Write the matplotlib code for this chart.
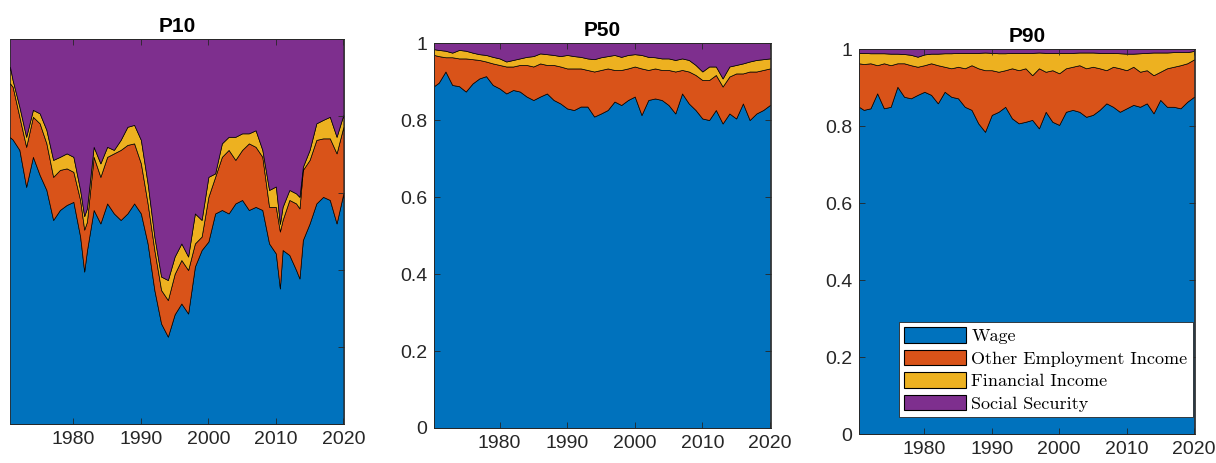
import numpy as np
import matplotlib
matplotlib.use('Agg')
import matplotlib.pyplot as plt
from matplotlib.patches import Patch

# cumulative shares: top of wage, top of other employment,
# top of financial income (social security fills the rest up to 1)
years_p10 = [1970.6, 1971, 1972, 1973, 1974, 1975, 1976, 1977, 1978, 1979, 1980,
             1981, 1981.6, 1982, 1983, 1984, 1985, 1986, 1987, 1988, 1989, 1990,
             1991, 1992, 1993, 1994, 1995, 1996, 1997, 1998, 1999, 2000,
             2001, 2002, 2003, 2004, 2005, 2006, 2007, 2008, 2009, 2010,
             2010.6, 2011, 2012, 2013, 2013.5, 2014, 2015, 2016, 2017, 2018, 2019, 2020]
wage_p10 = [0.745, 0.739, 0.712, 0.616, 0.694, 0.647, 0.608, 0.530, 0.556, 0.569, 0.577,
            0.487, 0.396, 0.450, 0.556, 0.521, 0.573, 0.547, 0.530, 0.547, 0.573, 0.547,
            0.469, 0.348, 0.261, 0.227, 0.285, 0.313, 0.287, 0.409, 0.452, 0.474,
            0.547, 0.556, 0.547, 0.573, 0.582, 0.556, 0.564, 0.556, 0.469, 0.443,
            0.352, 0.452, 0.439, 0.400, 0.378, 0.478, 0.521, 0.573, 0.590, 0.582, 0.521, 0.599]
other_p10 = [0.885, 0.876, 0.798, 0.720, 0.798, 0.781, 0.729, 0.642, 0.660, 0.664, 0.655,
             0.582, 0.505, 0.525, 0.694, 0.642, 0.694, 0.703, 0.712, 0.725, 0.729, 0.677,
             0.573, 0.452, 0.348, 0.322, 0.390, 0.426, 0.400, 0.469, 0.487, 0.590,
             0.642, 0.694, 0.712, 0.686, 0.712, 0.729, 0.720, 0.694, 0.564, 0.564,
             0.500, 0.530, 0.582, 0.573, 0.560, 0.660, 0.686, 0.738, 0.742, 0.742, 0.703, 0.772]
fin_p10 = [0.928, 0.893, 0.824, 0.746, 0.816, 0.807, 0.764, 0.686, 0.694, 0.703, 0.694,
           0.608, 0.540, 0.560, 0.720, 0.677, 0.720, 0.712, 0.738, 0.772, 0.777, 0.738,
           0.625, 0.487, 0.383, 0.374, 0.435, 0.469, 0.435, 0.547, 0.530, 0.642,
           0.651, 0.729, 0.746, 0.746, 0.755, 0.755, 0.763, 0.712, 0.608, 0.617,
           0.520, 0.564, 0.608, 0.599, 0.590, 0.668, 0.712, 0.781, 0.790, 0.798, 0.746, 0.803]

years = [1970.3, 1971, 1972, 1973, 1974, 1975, 1976, 1977, 1978, 1979, 1980,
         1981, 1982, 1983, 1984, 1985, 1986, 1987, 1988, 1989, 1990,
         1991, 1992, 1993, 1994, 1995, 1996, 1997, 1998, 1999, 2000,
         2001, 2002, 2003, 2004, 2005, 2006, 2007, 2008, 2009, 2010,
         2011, 2012, 2013, 2014, 2015, 2016, 2017, 2018, 2019, 2020]

wage_p50 = [0.888, 0.897, 0.926, 0.891, 0.888, 0.874, 0.895, 0.908, 0.914, 0.891, 0.882,
            0.869, 0.878, 0.874, 0.861, 0.852, 0.861, 0.869, 0.852, 0.843, 0.830,
            0.826, 0.835, 0.835, 0.809, 0.817, 0.826, 0.848, 0.839, 0.852, 0.861,
            0.813, 0.852, 0.856, 0.852, 0.839, 0.817, 0.869, 0.843, 0.826, 0.804,
            0.800, 0.826, 0.791, 0.817, 0.804, 0.843, 0.800, 0.817, 0.826, 0.839]
other_p50 = [0.969, 0.966, 0.963, 0.963, 0.960, 0.960, 0.958, 0.956, 0.952, 0.947, 0.943,
             0.939, 0.939, 0.943, 0.943, 0.939, 0.947, 0.943, 0.943, 0.939, 0.934,
             0.934, 0.934, 0.930, 0.926, 0.930, 0.934, 0.930, 0.930, 0.934, 0.939,
             0.934, 0.930, 0.934, 0.930, 0.930, 0.926, 0.930, 0.926, 0.917, 0.904,
             0.904, 0.917, 0.887, 0.913, 0.921, 0.921, 0.926, 0.926, 0.930, 0.934]
fin_p50 = [0.984, 0.982, 0.980, 0.975, 0.982, 0.980, 0.975, 0.971, 0.969, 0.964, 0.960,
           0.952, 0.956, 0.960, 0.964, 0.966, 0.973, 0.971, 0.969, 0.966, 0.969,
           0.966, 0.964, 0.960, 0.958, 0.963, 0.966, 0.969, 0.964, 0.969, 0.971,
           0.969, 0.964, 0.963, 0.960, 0.960, 0.956, 0.960, 0.956, 0.943, 0.926,
           0.939, 0.939, 0.908, 0.939, 0.943, 0.947, 0.952, 0.956, 0.958, 0.960]

wage_p90 = [0.850, 0.842, 0.846, 0.885, 0.846, 0.850, 0.902, 0.876, 0.872, 0.881, 0.889,
            0.881, 0.859, 0.889, 0.876, 0.872, 0.850, 0.842, 0.807, 0.785, 0.829,
            0.837, 0.850, 0.820, 0.807, 0.811, 0.816, 0.794, 0.837, 0.811, 0.803,
            0.837, 0.842, 0.837, 0.824, 0.829, 0.842, 0.859, 0.850, 0.837, 0.846,
            0.855, 0.850, 0.859, 0.833, 0.868, 0.850, 0.850, 0.846, 0.863, 0.876]
other_p90 = [0.963, 0.961, 0.963, 0.958, 0.963, 0.958, 0.963, 0.963, 0.958, 0.954, 0.958,
             0.963, 0.958, 0.954, 0.950, 0.954, 0.950, 0.958, 0.950, 0.945, 0.945,
             0.941, 0.945, 0.950, 0.945, 0.950, 0.932, 0.950, 0.941, 0.945, 0.937,
             0.950, 0.954, 0.958, 0.950, 0.954, 0.950, 0.945, 0.954, 0.950, 0.945,
             0.954, 0.941, 0.945, 0.932, 0.941, 0.950, 0.954, 0.958, 0.963, 0.973]
fin_p90 = [0.990, 0.990, 0.989, 0.989, 0.989, 0.988, 0.988, 0.987, 0.985, 0.980, 0.986,
           0.988, 0.988, 0.989, 0.989, 0.990, 0.990, 0.990, 0.990, 0.991, 0.990,
           0.989, 0.989, 0.990, 0.990, 0.990, 0.990, 0.991, 0.990, 0.990, 0.990,
           0.990, 0.990, 0.991, 0.991, 0.991, 0.990, 0.990, 0.990, 0.989, 0.988,
           0.988, 0.989, 0.990, 0.991, 0.991, 0.991, 0.992, 0.992, 0.992, 0.995]

labels = ['Wage', 'Other Employment Income', 'Financial Income', 'Social Security']
colors = ['#0072BD', '#D95319', '#EDB120', '#7E2F8E']

plt.rcParams['font.family'] = ['Liberation Sans', 'DejaVu Sans']
tc = '#262626'


def stack_panel(ax, x, wage, other, fin, title, xlim):
    x = np.array(x)
    ax.fill_between(x, 0, wage, facecolor=colors[0], edgecolor='k', lw=0.5)
    ax.fill_between(x, wage, other, facecolor=colors[1], edgecolor='k', lw=0.5)
    ax.fill_between(x, other, fin, facecolor=colors[2], edgecolor='k', lw=0.5)
    ax.fill_between(x, fin, 1, facecolor=colors[3], edgecolor='k', lw=0.5)
    ax.set_xlim(xlim)
    ax.set_ylim(0, 1)
    ax.set_xticks([1980, 1990, 2000, 2010, 2020])
    ax.set_yticks([0, 0.2, 0.4, 0.6, 0.8, 1])
    ax.set_yticklabels(['0', '0.2', '0.4', '0.6', '0.8', '1'])
    ax.tick_params(direction='in', top=True, right=True, length=4, width=0.6,
                   color=tc, labelcolor=tc, labelsize=14, pad=5)
    for s in ax.spines.values():
        s.set_color(tc)
        s.set_linewidth(0.6)
    ax.set_title(title, fontsize=15, fontweight='bold', pad=5)


fig = plt.figure(figsize=(12.16, 4.63), dpi=100)
ax1 = fig.add_axes([0.0082, 0.0842, 0.2747, 0.8315])
ax2 = fig.add_axes([0.3569, 0.0756, 0.2771, 0.8315])
ax3 = fig.add_axes([0.7064, 0.0626, 0.2763, 0.8315])

stack_panel(ax1, years_p10, wage_p10, other_p10, fin_p10, 'P10', (1970.6, 2020.1))
stack_panel(ax2, years, wage_p50, other_p50, fin_p50, 'P50', (1970.3, 2020.15))
stack_panel(ax3, years, wage_p90, other_p90, fin_p90, 'P90', (1970.3, 2020.15))

# the left panel is cut at its left edge in the original, so no y labels show
ax1.tick_params(left=False, labelleft=False)
ax1.spines['left'].set_visible(False)

handles = [Patch(facecolor=c, edgecolor='k', lw=0.8) for c in colors]
leg = ax3.legend(handles, labels, loc='lower left', bbox_to_anchor=(0.7393, 0.0994),
                 bbox_transform=fig.transFigure, borderaxespad=0,
                 prop={'family': 'cmr10', 'size': 13}, fancybox=False,
                 framealpha=1, edgecolor=tc, handlelength=3.4, handleheight=0.95,
                 handletextpad=0.3, labelspacing=0.3, borderpad=0.3)
leg.get_frame().set_linewidth(0.6)

fig.savefig('out.png', dpi=100)
